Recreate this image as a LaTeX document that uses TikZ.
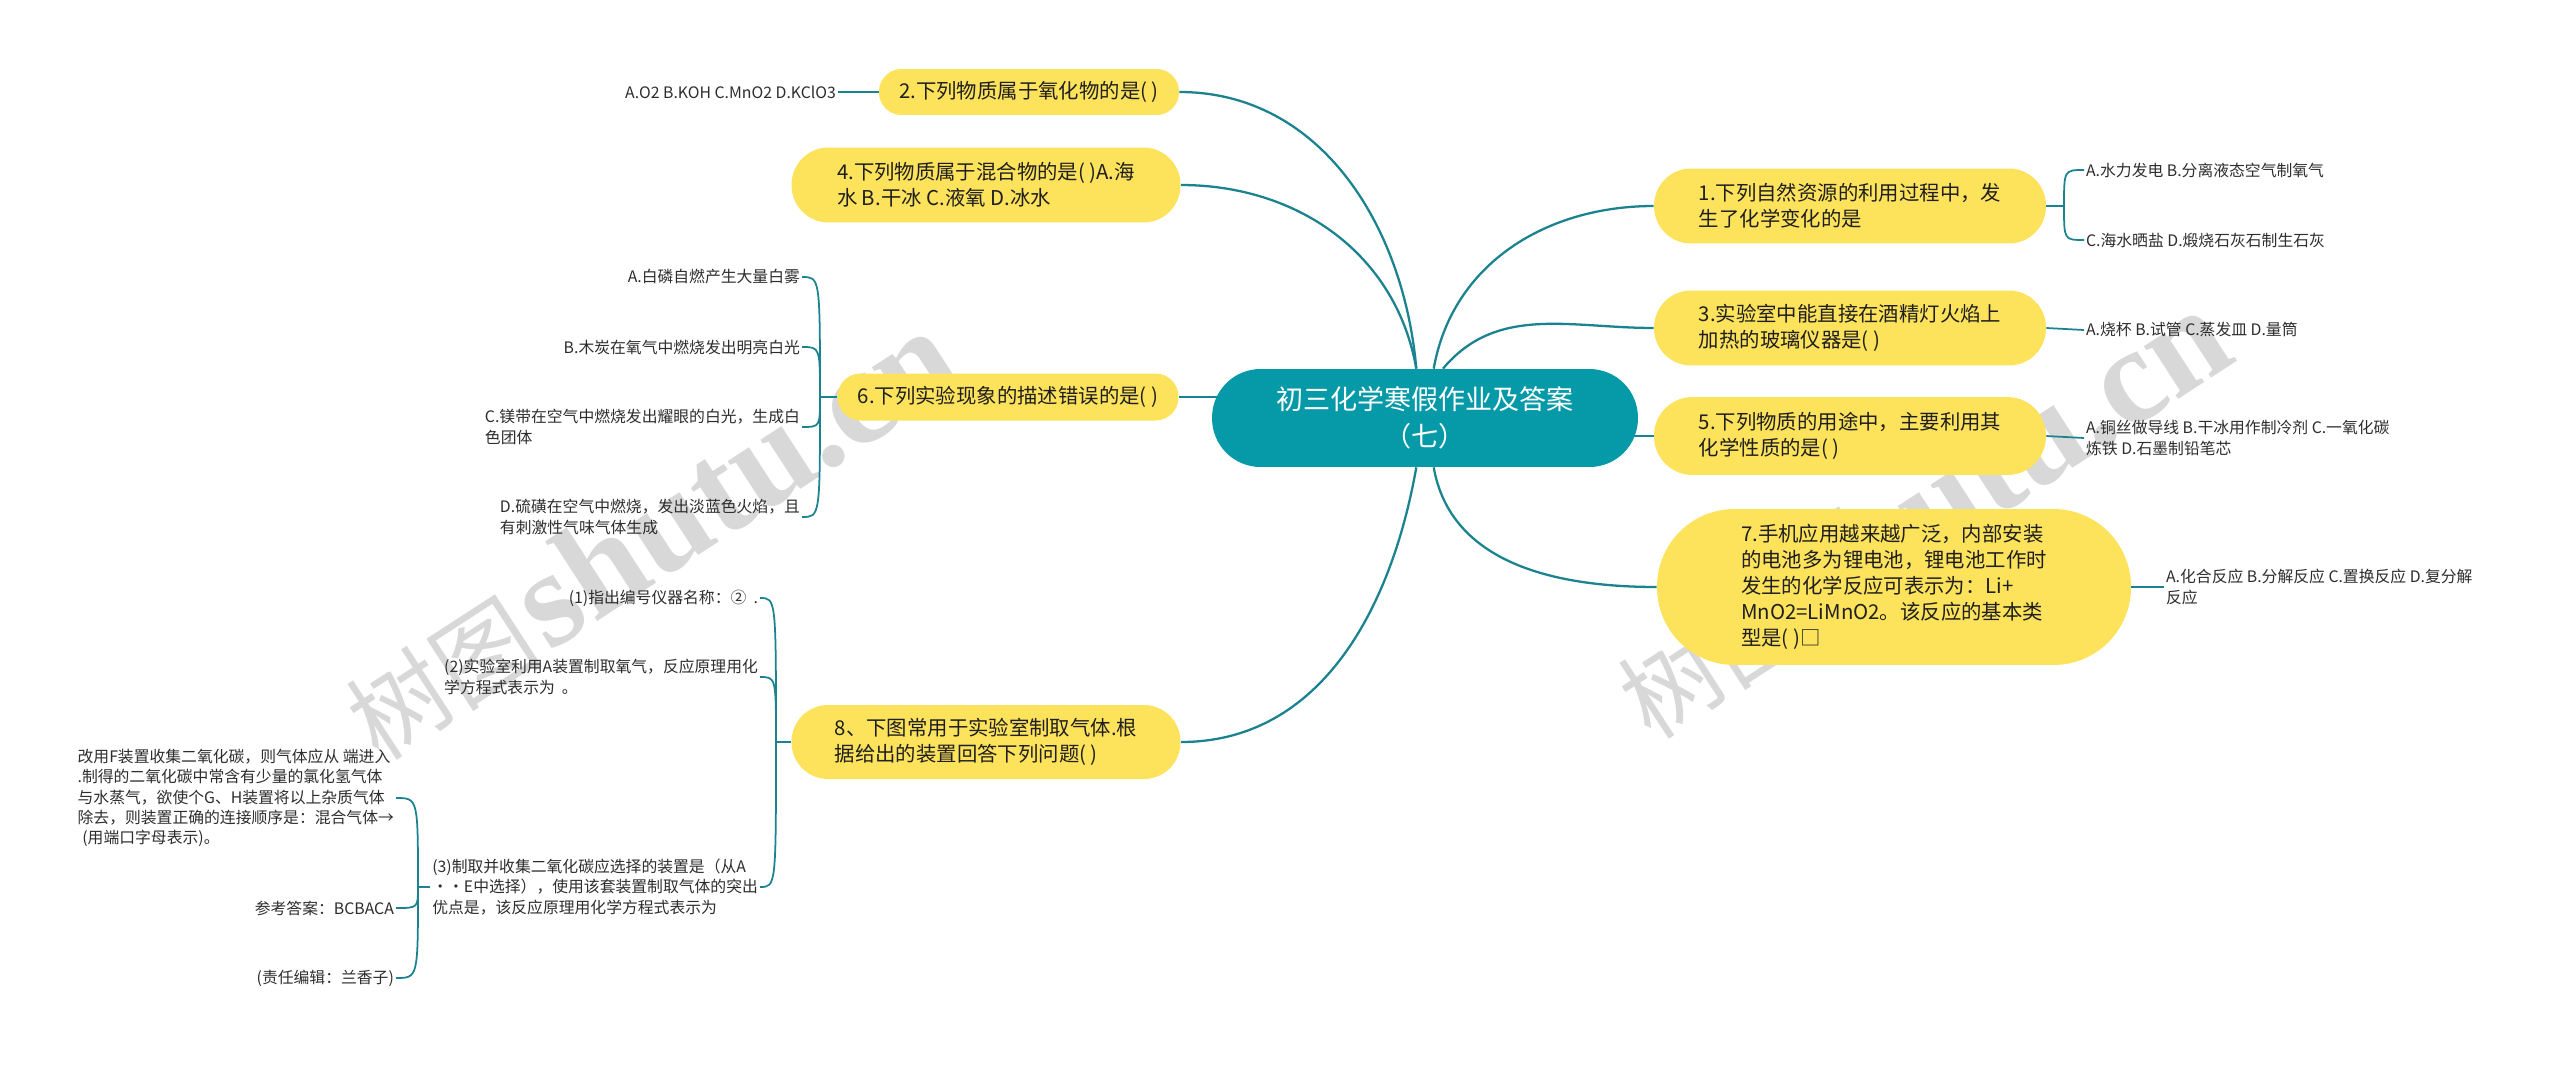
\documentclass[tikz,border=0pt]{standalone}
\usepackage{fontspec}
\newfontfamily\cjk{Noto Sans CJK SC}
\newfontfamily\wmserif{Liberation Serif}
\usetikzlibrary{positioning,backgrounds}
\definecolor{topicyellow}{RGB}{253,226,92}
\definecolor{rootteal}{RGB}{6,153,167}
\definecolor{linkteal}{RGB}{26,131,143}
\definecolor{leafink}{RGB}{45,45,45}
\definecolor{wmgray}{RGB}{216,216,216}
\tikzset{
    rootbox/.style={
        fill=rootteal, text=white, align=center,
        minimum width=8.52cm, minimum height=1.96cm,
        rounded corners=0.97cm, inner sep=0pt,
        font=\cjk\fontsize{15.4}{21}\selectfont
    },
    % yellow topics: width, height, corner radius
    topicbox/.style n args={3}{
        fill=topicyellow, text=black!88, align=left,
        minimum width=#1, minimum height=#2,
        rounded corners=#3, inner sep=0pt,
        font=\cjk\fontsize{11.6}{14.8}\selectfont
    },
    leaftext/.style={
        text=leafink, align=left, inner sep=1pt,
        font=\cjk\fontsize{9}{11.6}\selectfont
    },
    branchline/.style={draw=linkteal, line width=1.3pt},
    twigline/.style={draw=linkteal, line width=1pt},
    watermark/.style={text=wmgray, rotate=33, inner sep=0pt}
}

\begin{document}
\begin{tikzpicture}[x=0.02cm, y=-0.02cm]
\useasboundingbox (0,0) rectangle (2560,1065);

% watermarks
\node[watermark] (wm1) at (650,535) {{\cjk\fontsize{56}{56}\selectfont 树图} {\wmserif\bfseries\fontsize{78}{78}\selectfont shutu.cn}};
\node[watermark] (wm2) at (1922,514) {{\cjk\fontsize{56}{56}\selectfont 树图} {\wmserif\bfseries\fontsize{78}{78}\selectfont shutu.cn}};

% root
\node[rootbox] (ctr) at (1425,418) {初三化学寒假作业及答案\\（七）};

% right topics
\node[topicbox={7.84cm}{1.5cm}{0.74cm}] (n1) at (1850,206) {1.下列自然资源的利用过程中，发\\生了化学变化的是};
\node[topicbox={7.84cm}{1.5cm}{0.74cm}] (n3) at (1850,328) {3.实验室中能直接在酒精灯火焰上\\加热的玻璃仪器是( )};
\node[topicbox={7.84cm}{1.56cm}{0.77cm}] (n5) at (1850,436) {5.下列物质的用途中，主要利用其\\化学性质的是( )};
\node[topicbox={9.48cm}{3.12cm}{1.55cm}] (n7) at (1894,587) {7.手机应用越来越广泛，内部安装\\的电池多为锂电池，锂电池工作时\\发生的化学反应可表示为：Li+\\MnO2=LiMnO2。该反应的基本类\\型是( )□};

% left topics
\node[topicbox={6.0cm}{0.92cm}{0.45cm}] (n2) at (1029,92) {2.下列物质属于氧化物的是( )};
\node[topicbox={7.78cm}{1.5cm}{0.74cm}] (n4) at (986,185) {4.下列物质属于混合物的是( )A.海\\水 B.干冰 C.液氧 D.冰水};
\node[topicbox={6.82cm}{0.94cm}{0.46cm}] (n6) at (1008,397) {6.下列实验现象的描述错误的是( )};
\node[topicbox={7.78cm}{1.48cm}{0.73cm}] (n8) at (986,742) {8、下图常用于实验室制取气体.根\\据给出的装置回答下列问题( )};

% right leaves
\node[leaftext, anchor=west] (l1a) at (2084,170) {A.水力发电 B.分离液态空气制氧气};
\node[leaftext, anchor=west] (l1b) at (2084,240) {C.海水晒盐 D.煅烧石灰石制生石灰};
\node[leaftext, anchor=west] (l3) at (2084,330) {A.烧杯 B.试管 C.蒸发皿 D.量筒};
\node[leaftext, anchor=west] (l5) at (2084,438) {A.铜丝做导线 B.干冰用作制冷剂 C.一氧化碳\\炼铁 D.石墨制铅笔芯};
\node[leaftext, anchor=west] (l7) at (2164,587) {A.化合反应 B.分解反应 C.置换反应 D.复分解\\反应};

% left leaves
\node[leaftext, anchor=east] (l2) at (838,92) {A.O2 B.KOH C.MnO2 D.KClO3};
\node[leaftext, anchor=east] (l6a) at (802,277) {A.白磷自燃产生大量白雾};
\node[leaftext, anchor=east] (l6b) at (802,347) {B.木炭在氧气中燃烧发出明亮白光};
\node[leaftext, anchor=east] (l6c) at (802,427) {C.镁带在空气中燃烧发出耀眼的白光，生成白\\色团体};
\node[leaftext, anchor=east] (l6d) at (802,517) {D.硫磺在空气中燃烧，发出淡蓝色火焰，且\\有刺激性气味气体生成};
\node[leaftext, anchor=east] (l8a) at (760,598) {(1)指出编号仪器名称：②\ \ .};
\node[leaftext, anchor=east] (l8b) at (760,677) {(2)实验室利用A装置制取氧气，反应原理用化\\学方程式表示为\ \ 。};
\node[leaftext, anchor=east] (l8c) at (760,887) {(3)制取并收集二氧化碳应选择的装置是（从A\\・・E中选择），使用该套装置制取气体的突出\\优点是，该反应原理用化学方程式表示为};
\node[leaftext, anchor=east] (l8d) at (396,798) {改用F装置收集二氧化碳，则气体应从 端进入\\.制得的二氧化碳中常含有少量的氯化氢气体\\与水蒸气，欲使个G、H装置将以上杂质气体\\除去，则装置正确的连接顺序是：混合气体→\\\hspace{0.3em}(用端口字母表示)。};
\node[leaftext, anchor=east] (l8e) at (396,908) {参考答案：BCBACA};
\node[leaftext, anchor=east] (l8f) at (396,978) {(责任编辑：兰香子)};

\coordinate (j1) at (2064,206);
\coordinate (j6) at (820,397);
\coordinate (j8) at (776,742);
\coordinate (j8c) at (418,887);

\begin{scope}[on background layer]
% root to topics
\draw[branchline] (ctr.100) to[out=95,in=0] (n2.east);
\draw[branchline] (ctr.100) to[out=100,in=0] (n4.east);
\draw[branchline] (n6.east) -- ([xshift=0.15cm]n6.east -| ctr.west);
\draw[branchline] (ctr.260) to[out=260,in=0] (n8.east);
\draw[branchline] (ctr.80) to[out=80,in=180] (n1.west);
\draw[branchline] (ctr.70) to[out=50,in=180] (n3.west);
\draw[branchline] (n5.west) -- ([xshift=-0.15cm]n5.west -| ctr.east);
\draw[branchline] (ctr.280) to[out=-80,in=180] (n7.west);
\end{scope}

% topics to leaves
\draw[twigline] (n1.east) -- (j1);
\draw[twigline] (j1) .. controls (j1 |- l1a.west) .. (l1a.west);
\draw[twigline] (j1) .. controls (j1 |- l1b.west) .. (l1b.west);
\draw[twigline] (n3.east) -- (l3.west);
\draw[twigline] (n5.east) -- (l5.west);
\draw[twigline] (n7.east) -- (l7.west);
\draw[twigline] (n2.west) -- (l2.east);
\draw[twigline] (n6.west) -- (j6);
\foreach \leaf in {l6a,l6b,l6c,l6d}
  \draw[twigline] (j6) .. controls (j6 |- \leaf.east) .. (\leaf.east);
\draw[twigline] (n8.west) -- (j8);
\foreach \leaf in {l8a,l8b,l8c}
  \draw[twigline] (j8) .. controls (j8 |- \leaf.east) .. (\leaf.east);
\draw[twigline] (l8c.west) -- (j8c);
\foreach \leaf in {l8d,l8e,l8f}
  \draw[twigline] (j8c) .. controls (j8c |- \leaf.east) .. (\leaf.east);
\end{tikzpicture}
\end{document}
